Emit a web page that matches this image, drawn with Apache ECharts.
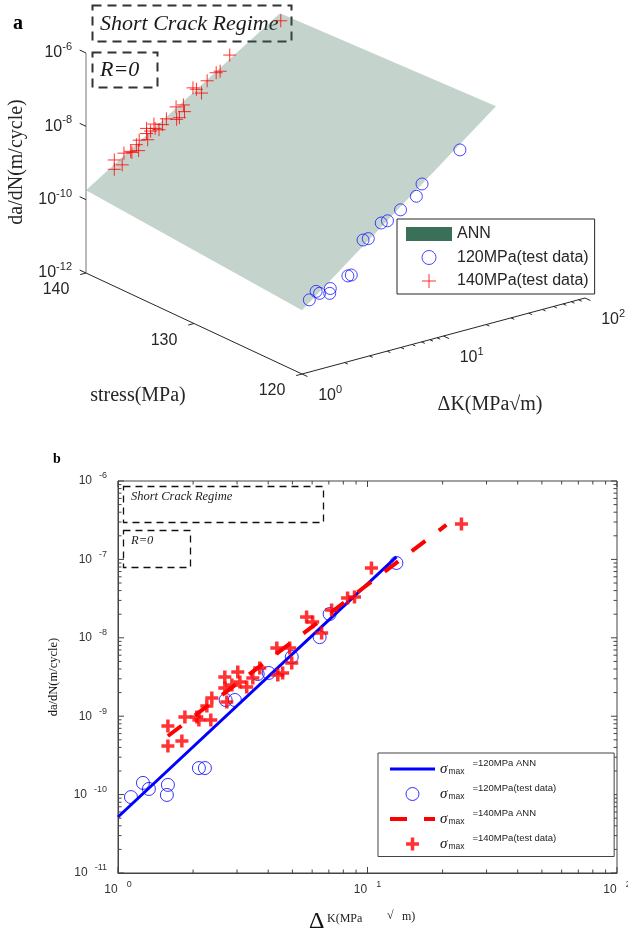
<!DOCTYPE html>
<html>
<head>
<meta charset="utf-8">
<title>Fatigue crack growth rate: ANN prediction and test data</title>
<script src="https://cdn.jsdelivr.net/npm/echarts@6.0.0/dist/echarts.min.js"></script>
<style>
html, body { margin: 0; padding: 0; background: #fff; }
#chart { width: 628px; height: 937px; }
</style>
</head>
<body>
<div id="chart"></div>
<script>
// ---------------- data ----------------
// sigma_max = 120 MPa test data: ΔK (MPa·√m) and da/dN (m/cycle)
const test120DK   = [1.127, 1.259, 1.33, 1.585, 1.57, 2.11, 2.23, 2.70, 2.94, 3.63, 4.02, 4.97, 6.43, 7.05, 13.06];
const test120Rate = [9.3e-11, 1.41e-10, 1.18e-10, 1.33e-10, 9.9e-11, 2.18e-10, 2.18e-10, 1.61e-9, 1.61e-9,
                     3.45e-9, 3.56e-9, 5.69e-9, 1.02e-8, 2.01e-8, 9.0e-8];

// sigma_max = 140 MPa test data
const test140DK   = [1.585, 1.585, 1.803, 1.854, 2.07, 2.11, 2.355, 2.377, 2.27, 2.68, 2.68, 2.73, 2.86, 3.02,
                     3.08, 3.28, 3.47, 3.70, 4.37, 4.57, 4.33, 4.88, 4.97, 5.70, 6.03, 6.55, 7.18, 8.32, 8.87,
                     10.37, 23.8];
const test140Rate = [7.5e-10, 4.17e-10, 4.83e-10, 9.77e-10, 9.77e-10, 8.95e-10, 8.95e-10, 1.71e-9, 1.35e-9,
                     3.16e-9, 2.29e-9, 1.52e-9, 2.5e-9, 3.66e-9, 2.73e-9, 2.36e-9, 3.07e-9, 4.12e-9, 3.36e-9,
                     3.56e-9, 7.41e-9, 7.41e-9, 4.77e-9, 1.84e-8, 1.59e-8, 1.15e-8, 2.26e-8, 3.22e-8, 3.31e-8,
                     7.77e-8, 2.83e-7];

// ANN predictions (straight lines in log-log space, given by their end points)
const ann120DK   = [1, 13.06];
const ann120Rate = [5.18e-11, 1.08e-7];
const ann140DK   = [1.585, 20.7];
const ann140Rate = [5.59e-10, 2.75e-7];

// ANN response surface over ΔK x stress; rates indexed [stress][ΔK]
const surfDK     = [1, 23.5];
const surfStress = [120, 140];
const surfRate   = [[5.5e-11, 7.6e-7], [1.8e-10, 4.6e-7]];

// 3-D panel axis ranges and ticks
const dkRange3d     = [1, 100];
const stressRange3d = [120, 140];
const rateRange3d   = [1e-12, 1e-6];
const dkTicks3d     = [1, 10, 100];
const stressTicks3d = [120, 130, 140];
const rateTicks3d   = [1e-12, 1e-10, 1e-8, 1e-6];

// 2-D panel axis ranges
const dkRange2d   = [1, 100];
const rateRange2d = [1e-11, 1e-6];

// ---------------- styling helpers ----------------
const SANS  = '"Liberation Sans", Arial, sans-serif';
const SERIF = '"Liberation Serif", "Times New Roman", serif';
const INK3D = '#262626';

const measureCtx = document.createElement('canvas').getContext('2d');
function textWidth(str, font) { measureCtx.font = font; return measureCtx.measureText(str).width; }

const zip = (xs, ys) => xs.map((x, i) => [x, ys[i]]);

// log ticks: decade majors plus 2..9 minors
function logTicks(lo, hi) {
  const out = [];
  for (let e = lo; e < hi; e++) {
    for (let m = 1; m <= 9; m++) out.push({ v: m * Math.pow(10, e), major: m === 1 });
  }
  out.push({ v: Math.pow(10, hi), major: true });
  return out;
}

// ---------------- 3-D view (orthographic projection into grid 1) ----------------
const view3d = {
  origin: [86, 273],          // ΔK = 1, stress = 140 MPa, da/dN = 1e-12
  perDecadeDK: [141.5, -38],
  perMPa: [-10.8, -5.05],     // direction of increasing stress
  perDecadeRate: [0, -36.67]
};
function project(dk, s, rate) {
  const a = Math.log10(dk) - Math.log10(dkRange3d[0]);
  const b = s - stressRange3d[1];
  const c = Math.log10(rate) - Math.log10(rateRange3d[0]);
  const v = view3d;
  return [
    v.origin[0] + a * v.perDecadeDK[0] + b * v.perMPa[0] + c * v.perDecadeRate[0],
    v.origin[1] + a * v.perDecadeDK[1] + b * v.perMPa[1] + c * v.perDecadeRate[1]
  ];
}

// ---------------- symbols ----------------
const PLUS_THIN  = 'path://M6.5,0 L6.5,13 M0,6.5 L13,6.5';
const PLUS_THICK = 'path://M4.75,0 H8.25 V4.75 H13 V8.25 H8.25 V13 H4.75 V8.25 H0 V4.75 H4.75 Z';

// ---------------- renderers ----------------
function renderSurface(params, api) {
  const corner = (i, j) => api.coord(project(surfDK[j], surfStress[i], surfRate[i][j]));
  return {
    type: 'polygon',
    shape: { points: [corner(0, 0), corner(0, 1), corner(1, 1), corner(1, 0)] },
    style: { fill: 'rgba(59,112,88,0.3)' }
  };
}

function renderFrame3d(params, api) {
  const P = (dk, s, r) => api.coord(project(dk, s, r));
  const [k0, k1] = dkRange3d, [s0, s1] = stressRange3d, [r0, r1] = rateRange3d;
  const kids = [];
  const seg = (a, b, color, w) => kids.push({
    type: 'line', shape: { x1: a[0], y1: a[1], x2: b[0], y2: b[1] },
    style: { stroke: color, lineWidth: w }
  });
  const txt = (x, y, s, align, size) => kids.push({
    type: 'text', x, y,
    style: { text: s, fill: INK3D, font: size + 'px ' + SANS, align, verticalAlign: 'middle' }
  });
  const unit = (a, b) => { const dx = b[0] - a[0], dy = b[1] - a[1], n = Math.hypot(dx, dy); return [dx / n, dy / n]; };

  const corner = P(k0, s1, r0), top = P(k0, s1, r1), front = P(k0, s0, r0), kEnd = P(k1, s0, r0);
  seg(corner, top, '#8c8c8c', 1.2);
  seg(corner, front, INK3D, 1);
  seg(front, kEnd, INK3D, 1);
  const uS = unit(corner, front);
  const uK = unit(front, kEnd);

  // da/dN axis
  rateTicks3d.forEach(v => {
    const p = P(k0, s1, v);
    seg(p, [p[0] - 7 * uS[0], p[1] - 7 * uS[1]], INK3D, 1);
    const e = String(Math.round(Math.log10(v)));
    const ew = textWidth(e, '11px ' + SANS);
    txt(p[0] - 14, p[1] - 6, e, 'right', 11);
    txt(p[0] - 14 - ew, p[1], '10', 'right', 16);
  });
  // stress axis
  stressTicks3d.forEach(s => {
    const p = P(k0, s, r0);
    seg(p, [p[0] - 6 * uK[0], p[1] - 6 * uK[1]], INK3D, 1);
    txt(p[0] - 30, p[1] + 17, String(s), 'center', 16);
  });
  // ΔK axis
  logTicks(Math.log10(k0), Math.log10(k1)).forEach(t => {
    const p = P(t.v, s0, r0);
    const len = t.major ? 6 : 3.5;
    seg(p, [p[0] + len * uS[0], p[1] + len * uS[1]], INK3D, 1);
  });
  dkTicks3d.forEach(k => {
    const p = P(k, s0, r0);
    const jx = p[0] + 34, jy = p[1] + 22;
    txt(jx, jy, '10', 'right', 16);
    txt(jx, jy - 6, String(Math.round(Math.log10(k))), 'left', 11);
  });
  return { type: 'group', children: kids };
}

const TICK_COLOR = '#444';
function renderXTicks(params, api) {
  const v = api.value(0), len = api.value(2) ? 6 : 3.5;
  const b = api.coord([v, rateRange2d[0]]), t = api.coord([v, rateRange2d[1]]);
  return { type: 'group', children: [
    { type: 'line', shape: { x1: b[0], y1: b[1], x2: b[0], y2: b[1] - len }, style: { stroke: TICK_COLOR, lineWidth: 1 } },
    { type: 'line', shape: { x1: t[0], y1: t[1], x2: t[0], y2: t[1] + len }, style: { stroke: TICK_COLOR, lineWidth: 1 } }
  ] };
}
function renderYTicks(params, api) {
  const v = api.value(1), len = api.value(2) ? 6 : 3.5;
  const l = api.coord([dkRange2d[0], v]), r = api.coord([dkRange2d[1], v]);
  return { type: 'group', children: [
    { type: 'line', shape: { x1: l[0], y1: l[1], x2: l[0] + len, y2: l[1] }, style: { stroke: TICK_COLOR, lineWidth: 1 } },
    { type: 'line', shape: { x1: r[0], y1: r[1], x2: r[0] - len, y2: r[1] }, style: { stroke: TICK_COLOR, lineWidth: 1 } }
  ] };
}

// ---------------- chart ----------------
const NAME_A120 = '120MPa(test data)';
const NAME_A140 = '140MPa(test data)';
const NAME_B = ['σmax=120MPa ANN', 'σmax=120MPa(test data)', 'σmax=140MPa ANN', 'σmax=140MPa(test data)'];

// line-only legend entries: hide the marker that line icons carry by default
const noMarker = { color: 'rgba(0,0,0,0)', borderColor: 'rgba(0,0,0,0)', borderWidth: 0 };

const powLabel = v => '{b|10}{e|' + Math.round(Math.log10(v)) + '}';

const chart = echarts.init(document.getElementById('chart'));
chart.setOption({
  animation: false,
  backgroundColor: '#fff',
  grid: [
    { left: 118, top: 481, width: 499, height: 392, show: true, borderColor: '#444', borderWidth: 1,
      backgroundColor: 'transparent', containLabel: false, outerBoundsMode: 'none' },
    { left: 0, top: 0, width: 628, height: 440, show: false, containLabel: false, outerBoundsMode: 'none' }
  ],
  xAxis: [
    { type: 'log', gridIndex: 0, min: dkRange2d[0], max: dkRange2d[1], logBase: 10,
      axisLine: { show: true, lineStyle: { color: '#444', width: 1 } },
      axisTick: { show: false }, splitLine: { show: false }, minorTick: { show: false },
      axisLabel: { show: true, margin: 7, showMinLabel: true, showMaxLabel: true, formatter: powLabel,
        rich: { b: { fontFamily: SANS, fontSize: 12, color: '#333' },
                e: { fontFamily: SANS, fontSize: 9, color: '#333', padding: [0, 0, 10, 9] } } } },
    { type: 'value', gridIndex: 1, min: 0, max: 628, show: false }
  ],
  yAxis: [
    { type: 'log', gridIndex: 0, min: rateRange2d[0], max: rateRange2d[1], logBase: 10,
      axisLine: { show: true, lineStyle: { color: '#444', width: 1 } },
      axisTick: { show: false }, splitLine: { show: false }, minorTick: { show: false },
      axisLabel: { show: true, margin: 11, showMinLabel: true, showMaxLabel: true, formatter: powLabel,
        rich: { b: { fontFamily: SANS, fontSize: 12, color: '#333' },
                e: { fontFamily: SANS, fontSize: 9, color: '#333', padding: [0, 0, 10, 7] } } },
      name: 'da/dN(m/cycle)', nameLocation: 'middle', nameGap: 58, nameRotate: 90, nameMoveOverlap: false,
      nameTextStyle: { fontFamily: SERIF, fontSize: 12.5, color: '#111' } },
    { type: 'value', gridIndex: 1, min: 0, max: 440, inverse: true, show: false }
  ],
  legend: [
    { // 3-D panel
      orient: 'vertical', left: 397, top: 219, selectedMode: false,
      data: [{ name: 'ANN', icon: 'rect' }, NAME_A120, NAME_A140],
      itemWidth: 46, itemHeight: 14, itemGap: 7.5,
      padding: [7, 6, 5, 9], borderColor: INK3D, borderWidth: 1, backgroundColor: '#fff',
      itemStyle: { borderWidth: 1 },
      textStyle: { fontFamily: SANS, fontSize: 16, color: INK3D }
    },
    { // 2-D panel
      orient: 'vertical', left: 378, top: 753, selectedMode: false,
      data: [
        { name: NAME_B[0], itemStyle: noMarker },
        NAME_B[1],
        { name: NAME_B[2], itemStyle: noMarker },
        NAME_B[3]
      ],
      itemWidth: 45, itemHeight: 13, itemGap: 6.5,
      padding: [5, 58, 5, 10], borderColor: '#444', borderWidth: 1, backgroundColor: '#fff',
      itemStyle: { borderWidth: 'inherit' },
      lineStyle: { width: 'inherit', type: 'inherit' },
      formatter: name => '{s|σ}{m|max}{t|' + name.replace('σmax', '') + '}',
      textStyle: { rich: {
        s: { fontFamily: SERIF, fontStyle: 'italic', fontSize: 15, color: '#111' },
        m: { fontFamily: SANS, fontSize: 8.5, color: '#222', padding: [6, 0, 0, 1] },
        t: { fontFamily: SANS, fontSize: 9.5, color: '#222', padding: [0, 0, 12, 8] }
      } }
    }
  ],
  series: [
    // ----- panel b : log-log comparison -----
    { type: 'custom', name: 'xTicks', xAxisIndex: 0, yAxisIndex: 0, silent: true, z: 1,
      data: logTicks(0, 2).map(t => [t.v, rateRange2d[0], t.major ? 1 : 0]), renderItem: renderXTicks },
    { type: 'custom', name: 'yTicks', xAxisIndex: 0, yAxisIndex: 0, silent: true, z: 1,
      data: logTicks(-11, -6).map(t => [dkRange2d[0], t.v, t.major ? 1 : 0]), renderItem: renderYTicks },
    { type: 'line', name: NAME_B[0], xAxisIndex: 0, yAxisIndex: 0, z: 2, silent: true,
      data: zip(ann120DK, ann120Rate), symbol: 'none', color: '#0000ff',
      lineStyle: { color: '#0000ff', width: 3 } },
    { type: 'scatter', name: NAME_B[1], xAxisIndex: 0, yAxisIndex: 0, z: 3, silent: true,
      data: zip(test120DK, test120Rate), symbol: 'circle', symbolSize: 13,
      itemStyle: { color: 'rgba(0,0,0,0)', borderColor: '#0000ff', borderWidth: 1 } },
    { type: 'line', name: NAME_B[2], xAxisIndex: 0, yAxisIndex: 0, z: 4, silent: true,
      data: zip(ann140DK, ann140Rate), symbol: 'none', color: '#ff0000',
      lineStyle: { color: '#ff0000', width: 4, type: [17, 17] } },
    { type: 'scatter', name: NAME_B[3], xAxisIndex: 0, yAxisIndex: 0, z: 5, silent: true,
      data: zip(test140DK, test140Rate), symbol: PLUS_THICK, symbolSize: 13,
      itemStyle: { color: '#ff0000' } },

    // ----- panel a : 3-D view -----
    { type: 'custom', name: 'ANN', xAxisIndex: 1, yAxisIndex: 1, silent: true, z: 1,
      itemStyle: { color: '#3b7058' }, data: [[0, 0]], renderItem: renderSurface },
    { type: 'custom', name: 'frame3d', xAxisIndex: 1, yAxisIndex: 1, silent: true, z: 2,
      data: [[0, 0]], renderItem: renderFrame3d },
    { type: 'scatter', name: NAME_A120, xAxisIndex: 1, yAxisIndex: 1, z: 3, silent: true,
      data: test120DK.map((k, i) => project(k, 120, test120Rate[i])),
      symbol: 'circle', symbolSize: 12,
      itemStyle: { color: 'rgba(0,0,0,0)', borderColor: '#1a1aff', borderWidth: 1 } },
    { type: 'scatter', name: NAME_A140, xAxisIndex: 1, yAxisIndex: 1, z: 4, silent: true,
      data: test140DK.map((k, i) => project(k, 140, test140Rate[i])),
      symbol: PLUS_THIN, symbolSize: 13,
      itemStyle: { color: 'rgba(0,0,0,0)', borderColor: '#ff0000', borderWidth: 1 } }
  ],
  graphic: [
    // panel a annotations
    { type: 'text', x: 13, y: 24, style: { text: 'a', font: 'bold 20px ' + SERIF, fill: '#000', verticalAlign: 'middle' } },
    { type: 'rect', shape: { x: 92.5, y: 5.5, width: 199, height: 36 },
      style: { fill: 'none', stroke: '#333', lineWidth: 2, lineDash: [9, 6] } },
    { type: 'text', x: 100, y: 24, style: { text: 'Short Crack Regime', font: 'italic 22px ' + SERIF, fill: '#1a1a1a', verticalAlign: 'middle' } },
    { type: 'rect', shape: { x: 92.5, y: 52.5, width: 65, height: 35 },
      style: { fill: 'none', stroke: '#333', lineWidth: 2, lineDash: [9, 6] } },
    { type: 'text', x: 100, y: 70, style: { text: 'R=0', font: 'italic 22px ' + SERIF, fill: '#1a1a1a', verticalAlign: 'middle' } },
    { type: 'text', x: 17, y: 162, rotation: Math.PI / 2,
      style: { text: 'da/dN(m/cycle)', font: '20px ' + SERIF, fill: INK3D, align: 'center', verticalAlign: 'middle' } },
    { type: 'text', x: 138, y: 396, style: { text: 'stress(MPa)', font: '20px ' + SERIF, fill: INK3D, align: 'center', verticalAlign: 'middle' } },
    { type: 'text', x: 490, y: 405, style: { text: 'ΔK(MPa√m)', font: '20px ' + SERIF, fill: INK3D, align: 'center', verticalAlign: 'middle' } },

    // panel b annotations
    { type: 'text', x: 57, y: 459, style: { text: 'b', font: 'bold 14px ' + SERIF, fill: '#000', align: 'center', verticalAlign: 'middle' } },
    { type: 'rect', shape: { x: 123.5, y: 486.5, width: 200, height: 36 },
      style: { fill: 'none', stroke: '#111', lineWidth: 1.3, lineDash: [7, 5] } },
    { type: 'text', x: 131, y: 497, style: { text: 'Short Crack Regime', font: 'italic 12.5px ' + SERIF, fill: '#222', verticalAlign: 'middle' } },
    { type: 'rect', shape: { x: 123.5, y: 530.5, width: 67, height: 37 },
      style: { fill: 'none', stroke: '#111', lineWidth: 1.3, lineDash: [7, 5] } },
    { type: 'text', x: 131, y: 541, style: { text: 'R=0', font: 'italic 12.5px ' + SERIF, fill: '#222', verticalAlign: 'middle' } },
    { type: 'text', x: 309, y: 922, style: { text: 'Δ', font: '24px ' + SERIF, fill: '#111', verticalAlign: 'middle' } },
    { type: 'text', x: 327, y: 919, style: { text: 'K(MPa', font: '12px ' + SERIF, fill: '#222', verticalAlign: 'middle' } },
    { type: 'text', x: 387, y: 916, style: { text: '√', font: '12px ' + SERIF, fill: '#222', verticalAlign: 'middle' } },
    { type: 'text', x: 402, y: 917, style: { text: 'm)', font: '12px ' + SERIF, fill: '#222', verticalAlign: 'middle' } }
  ]
});
</script>
</body>
</html>
